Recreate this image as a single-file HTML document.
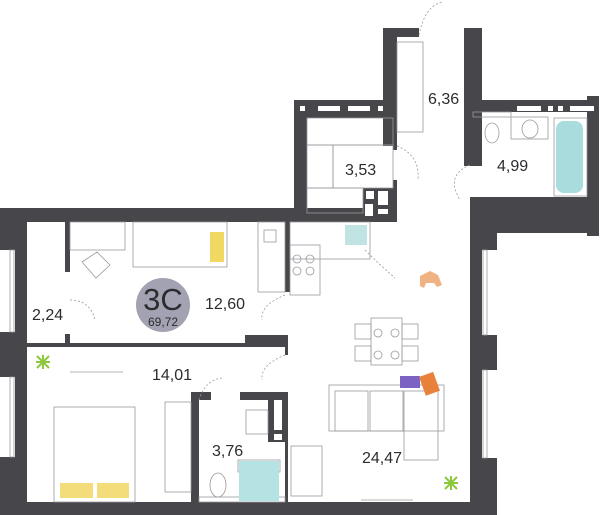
<!DOCTYPE html>
<html><head><meta charset="utf-8"><style>
html,body{margin:0;padding:0;background:#fff;}
svg{display:block;}
text{font-family:"Liberation Sans",sans-serif;fill:#2c2c30;}
</style></head><body>
<svg width="600" height="515" viewBox="0 0 600 515" xmlns="http://www.w3.org/2000/svg">
<g fill="#47464b">
<!-- corridor -->
<rect x="383" y="28" width="14" height="118"/>
<rect x="383" y="28" width="36" height="9"/>
<rect x="464" y="28" width="18" height="138"/>
<rect x="464" y="28" width="5" height="9"/>
<!-- 3.53 -->
<rect x="294" y="100" width="103" height="18"/>
<rect x="294" y="100" width="13" height="120"/>
<rect x="393" y="146" width="4" height="4"/>
<rect x="393" y="180" width="4" height="42"/>
<rect x="363" y="188" width="34" height="32"/>
<!-- bath 4.99 -->
<rect x="464" y="100" width="135" height="12"/>
<rect x="587" y="96" width="12" height="140"/>
<rect x="470" y="197" width="129" height="36"/>
<rect x="470" y="112" width="3" height="53"/>
<rect x="470" y="200" width="27" height="50"/>
<!-- main outer -->
<rect x="0" y="208" width="397" height="14"/>
<rect x="0" y="208" width="27" height="307"/>
<rect x="0" y="502" width="497" height="13"/>
<rect x="470" y="233" width="27" height="282"/>
<!-- interior -->
<rect x="27" y="343" width="261" height="4"/>
<rect x="245" y="335" width="43" height="12"/>
<rect x="65" y="222" width="5" height="50"/>
<rect x="65" y="334" width="5" height="13"/>
<rect x="285" y="222" width="5" height="70"/>
<rect x="285" y="347" width="3" height="8"/>
<rect x="285" y="395" width="3" height="107"/>
<rect x="191" y="392" width="8" height="110"/>
<rect x="191" y="392" width="20" height="8"/>
<rect x="240" y="392" width="48" height="8"/>
<rect x="268" y="392" width="20" height="50"/>
</g>
<!-- window slits -->
<g fill="#fff">
<rect x="300" y="106" width="5" height="5"/><rect x="318" y="106" width="22" height="5"/><rect x="348" y="106" width="22" height="5"/><rect x="378" y="106" width="5" height="5"/>
<rect x="517" y="106" width="24" height="5"/><rect x="548" y="106" width="5" height="5"/><rect x="558" y="106" width="5" height="5"/><rect x="570" y="106" width="24" height="5"/>
<rect x="366" y="191" width="8" height="8"/><rect x="378" y="191" width="10" height="14"/><rect x="378" y="209" width="10" height="5"/><rect x="365" y="204" width="8" height="12"/>
<rect x="274" y="400" width="8" height="30"/><rect x="274" y="434" width="8" height="6"/>
<!-- outer windows -->
<rect x="0" y="250" width="15" height="82"/><rect x="0" y="377" width="15" height="80"/>
<rect x="482" y="250" width="15" height="85"/><rect x="482" y="370" width="15" height="88"/>
</g>
<g fill="none" stroke="#9a9a9e" stroke-width="0.8">
<rect x="10" y="250" width="4" height="82"/><rect x="10" y="377" width="4" height="80"/>
<rect x="483" y="250" width="4" height="85"/><rect x="483" y="370" width="4" height="88"/>
<!-- corridor wardrobe -->
<rect x="397" y="42" width="26" height="90"/>
<!-- 3.53 shelves -->
<rect x="307" y="118" width="86" height="27"/><rect x="307" y="145" width="26" height="43"/><rect x="333" y="145" width="60" height="43"/><rect x="307" y="188" width="56" height="25"/>
<!-- bath 4.99 -->
<rect x="473" y="112" width="38" height="5"/><rect x="511" y="117" width="37" height="22"/>
<ellipse cx="492" cy="133" rx="7" ry="10"/><ellipse cx="530" cy="129" rx="8" ry="9"/>
<rect x="554" y="118" width="33" height="78"/>
<!-- bedroom 12.60 -->
<rect x="70" y="222" width="55" height="28"/>
<rect x="133" y="222" width="94" height="45"/>
<polygon points="82,262 97,252 110,265 96,278"/>
<rect x="258" y="222" width="27" height="70"/>
<rect x="264" y="230" width="12" height="12"/>
<!-- kitchen -->
<rect x="290" y="222" width="80" height="37"/>
<rect x="290" y="245" width="30" height="50"/>
<circle cx="297" cy="259" r="4"/><circle cx="310" cy="259" r="4"/><circle cx="297" cy="271" r="4"/><circle cx="310" cy="271" r="4"/>
<!-- dining -->
<rect x="371" y="318" width="31" height="47"/>
<rect x="355" y="324" width="16" height="15"/><rect x="355" y="346" width="16" height="15"/>
<rect x="402" y="324" width="16" height="15"/><rect x="402" y="346" width="16" height="15"/>
<circle cx="378" cy="333" r="4"/><circle cx="395" cy="333" r="4"/><circle cx="378" cy="355" r="4"/><circle cx="395" cy="355" r="4"/>
<!-- sofa -->
<rect x="329" y="385" width="115" height="46"/><rect x="335" y="391" width="33" height="40"/><rect x="370" y="391" width="33" height="40"/>
<rect x="404" y="391" width="34" height="69"/>
<!-- armchair -->
<rect x="291" y="461" width="31" height="50" transform="translate(0,-15)"/>
<!-- bedroom 14.01 -->
<rect x="54" y="407" width="81" height="95"/>
<rect x="165" y="415" width="26" height="90" transform="translate(0,-13)"/>
<line x1="70" y1="372" x2="123" y2="372"/>
<line x1="361" y1="500" x2="413" y2="500"/>
<!-- bath 3.76 -->
<ellipse cx="218" cy="485" rx="8" ry="12"/>
<rect x="246" y="410" width="22" height="24"/>
<rect x="238" y="490" width="42" height="12" transform="translate(0,-30)"/>
<rect x="199" y="497" width="86" height="5"/>
</g>
<!-- colored items -->
<rect x="556" y="121" width="27" height="72" rx="8" fill="#a9dcdc"/>
<rect x="210" y="232" width="14" height="30" fill="#f0d862"/>
<rect x="239" y="461" width="40" height="40" fill="#b5e2e2"/>
<rect x="345" y="225" width="22" height="20" fill="#c0e4e4"/>
<rect x="400" y="376" width="20" height="12" fill="#7b63c4"/>
<rect x="422" y="374" width="15" height="20" fill="#e8823a" transform="rotate(-20 429 384)"/>
<rect x="60" y="483" width="33" height="15" fill="#f3dc7a"/><rect x="97" y="483" width="32" height="15" fill="#f3dc7a"/>
<path d="M420 276 l10 -5 l8 4 l4 10 l-5 2 l-3 -4 l-8 0 l-2 5 l-4 -2z" fill="#f0b183"/>
<g stroke="#8cc83c" stroke-width="2"><path d="M36 362 l14 0 M43 355 l0 14 M37 356 l12 12 M49 356 l-12 12"/><path d="M444 483 l14 0 M451 476 l0 14 M445 477 l12 12 M457 477 l-12 12"/></g>
<!-- dashed door arcs -->
<g fill="none" stroke="#9a9a9e" stroke-width="0.8" stroke-dasharray="2,2">
<path d="M419 35 Q425 5 443 2"/><path d="M397 146 Q420 155 418 180"/><path d="M470 165 Q445 175 460 200"/>
<path d="M70 300 Q90 300 95 320"/><path d="M285 295 Q260 305 262 320"/><path d="M285 355 Q260 365 262 380"/>
<path d="M199 400 Q205 380 222 378"/><path d="M365 250 Q380 265 395 278"/>
</g>
<!-- labels -->
<g font-size="16">
<text x="428" y="104">6,36</text>
<text x="497" y="171">4,99</text>
<text x="345" y="175">3,53</text>
<text x="205" y="309">12,60</text>
<text x="32" y="320">2,24</text>
<text x="152" y="380">14,01</text>
<text x="212" y="456">3,76</text>
<text x="362" y="463">24,47</text>
</g>
<circle cx="163" cy="305" r="27" fill="#a2a2b2"/>
<text x="163" y="310" font-size="31" text-anchor="middle">3C</text>
<text x="163" y="326" font-size="12" text-anchor="middle">69,72</text>
</svg>
</body></html>
